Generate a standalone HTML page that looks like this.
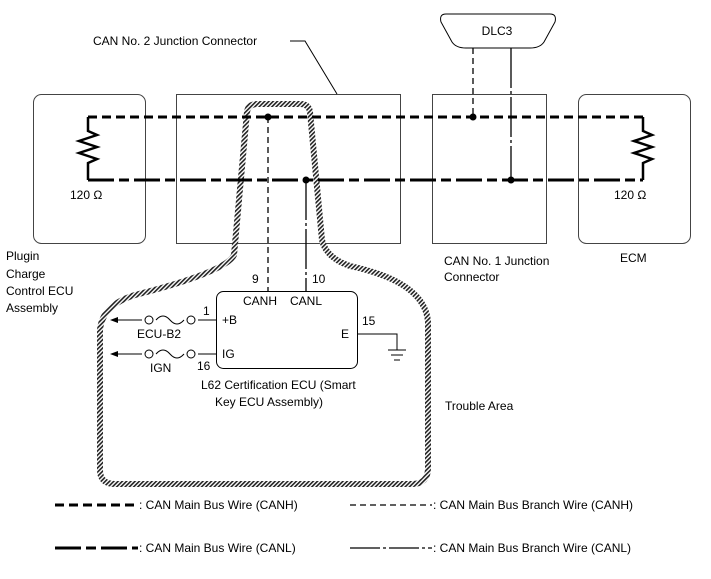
<!DOCTYPE html>
<html><head><style>body{margin:0;background:#fff}svg{display:block;font-family:"Liberation Sans",sans-serif}</style></head><body>
<svg width="711" height="579" viewBox="0 0 711 579" xmlns="http://www.w3.org/2000/svg">
<defs><pattern id="h" width="3" height="3" patternUnits="userSpaceOnUse" patternTransform="rotate(45)"><rect width="3" height="3" fill="#fff"/><rect width="1.6" height="3" fill="#222"/></pattern></defs>
<g fill="none" stroke="#444" stroke-width="1">
<rect x="33.5" y="94.5" width="112" height="149" rx="8"/>
<rect x="176.5" y="94.5" width="224" height="149"/>
<rect x="432.5" y="94.5" width="114" height="149"/>
<rect x="578.5" y="94.5" width="112" height="149" rx="8"/>
</g>
<path d="M234,255 L247,112 Q248,104 258,104 L300,104 Q309,104 310,112 L322,240 Q326,258 350,266 Q425,282 428,322 L428,468 Q428,484 412,484 L115,484 Q100,484 100,470 L100,330 Q102,305 135,295 Q226,272 234,255 Z" fill="none" stroke="url(#h)" stroke-width="6"/>
<g stroke="#000" stroke-width="3" fill="none">
<path d="M88,117 H643" stroke-dasharray="9,5"/>
<path d="M88,180 H643" stroke-dasharray="26,5,10,5"/>
<path d="M88,117 V131 l9,4 l-18,6 l18,6 l-18,6 l18,6 l-9,4 V180" stroke-width="2.5"/>
<path d="M643,117 V131 l9,4 l-18,6 l18,6 l-18,6 l18,6 l-9,4 V180" stroke-width="2.5"/>
</g>
<g stroke="#000" stroke-width="1.3" fill="none">
<path d="M268,117 V291" stroke-dasharray="6,4"/>
<path d="M306,180 V291" stroke-dasharray="40,3,3,3"/>
<path d="M473,48 V117" stroke-dasharray="6,4"/>
<path d="M511,48 V180" stroke-dasharray="40,3,3,3"/>
</g>
<g fill="#000"><circle cx="268" cy="117" r="3.5"/><circle cx="306" cy="180" r="3.5"/><circle cx="473" cy="117" r="3.5"/><circle cx="511" cy="180" r="3.5"/></g>
<path d="M446,14 H550 Q557,14 555,22 L544,42 Q540,48 530,48 H466 Q456,48 452,42 L441,22 Q439,14 446,14 Z" fill="#fff" stroke="#000" stroke-width="1"/>
<text x="497" y="35" font-size="12" text-anchor="middle">DLC3</text>
<path d="M290,41 H305 L337,94" stroke="#000" fill="none"/>
<g font-size="12" fill="#000">
<text x="93" y="45">CAN No. 2 Junction Connector</text>
<text x="70" y="199">120 Ω</text><text x="614" y="199">120 Ω</text>
<text x="6" y="260">Plugin</text><text x="6" y="278">Charge</text><text x="6" y="295">Control ECU</text><text x="6" y="312">Assembly</text>
<text x="444" y="265">CAN No. 1 Junction</text><text x="444" y="281">Connector</text>
<text x="620" y="262">ECM</text>
<text x="252" y="283">9</text><text x="312" y="283">10</text>
<text x="243" y="305">CANH</text><text x="290" y="305">CANL</text>
<text x="203" y="315">1</text><text x="222" y="324">+B</text>
<text x="137" y="338">ECU-B2</text>
<text x="222" y="358">IG</text><text x="197" y="370">16</text><text x="150" y="372">IGN</text>
<text x="341" y="338">E</text><text x="362" y="325">15</text>
<text x="201" y="389">L62 Certification ECU (Smart</text><text x="215" y="406">Key ECU Assembly)</text>
<text x="445" y="410">Trouble Area</text>
<text x="139" y="509">: CAN Main Bus Wire (CANH)</text>
<text x="433" y="509">: CAN Main Bus Branch Wire (CANH)</text>
<text x="139" y="552">: CAN Main Bus Wire (CANL)</text>
<text x="433" y="552">: CAN Main Bus Branch Wire (CANL)</text>
</g>
<rect x="216.5" y="291.5" width="141" height="77" rx="7" fill="none" stroke="#000"/>
<g stroke="#000" fill="none" stroke-width="1">
<path d="M115,320 H142 M156,320 Q163,312 170,320 Q177,328 184,320 M198,320 H216"/>
<circle cx="149" cy="320" r="4"/><circle cx="191" cy="320" r="4"/>
<path d="M115,354 H142 M156,354 Q163,346 170,354 Q177,362 184,354 M198,354 H216"/>
<circle cx="149" cy="354" r="4"/><circle cx="191" cy="354" r="4"/>
<path d="M357,334 H397 V350 M388,350 H406 M391,355 H403 M394,360 H400"/>
</g>
<g fill="#000"><path d="M110,320 l8,-3 v6z"/><path d="M110,354 l8,-3 v6z"/></g>
<g stroke="#000" fill="none">
<path d="M55,505 H138" stroke-width="3" stroke-dasharray="9,5"/>
<path d="M350,505 H432" stroke-width="1.2" stroke-dasharray="6,4"/>
<path d="M55,548 H138" stroke-width="3" stroke-dasharray="26,5,10,5"/>
<path d="M350,548 H432" stroke-width="1.2" stroke-dasharray="30,3,3,3"/>
</g>
</svg>
</body></html>
